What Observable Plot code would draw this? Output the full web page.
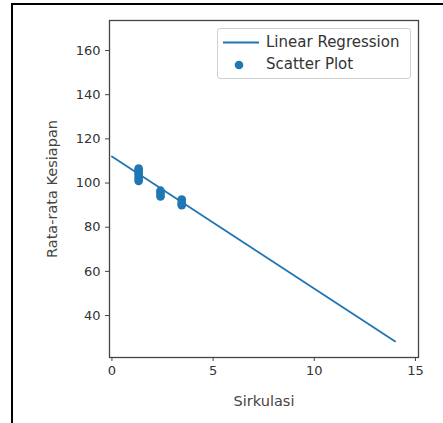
<!DOCTYPE html>
<html>
<head>
<meta charset="utf-8">
<script src="https://cdn.jsdelivr.net/npm/d3@7"></script>
<script src="https://cdn.jsdelivr.net/npm/@observablehq/plot@0.6"></script>
<style>
  html, body { margin: 0; padding: 0; background: #fff; }
  #wrap { position: relative; width: 443px; height: 423px; overflow: hidden; font-family: "DejaVu Sans", sans-serif; }
  #outer { position: absolute; left: 11px; top: 3px; width: 500px; height: 500px; border: 2px solid #000; box-sizing: border-box; }
  #chart { position: absolute; left: 0; top: 0; }
  #legend { position: absolute; left: 217px; top: 28px; width: 194px; height: 51px; border: 1px solid #d0d0d0; border-radius: 3px; background: rgba(255,255,255,0.8); box-sizing: border-box; font-size: 15px; color: #333; }
  .row { position: absolute; left: 0; height: 18px; line-height: 18px; }
  .txt { position: absolute; left: 48px; white-space: nowrap; }
</style>
</head>
<body>
<div id="wrap">
  <div id="outer"></div>
  <div id="chart"></div>
  <div id="legend">
    <div class="row" style="top:4px;width:190px">
      <svg width="45" height="18" style="position:absolute;left:4px;top:0"><line x1="1" x2="37" y1="9.5" y2="9.5" stroke="#1f77b4" stroke-width="1.8"/></svg>
      <span class="txt">Linear Regression</span>
    </div>
    <div class="row" style="top:26px;width:190px">
      <svg width="45" height="18" style="position:absolute;left:4px;top:0"><circle cx="17" cy="10" r="4.3" fill="#1f77b4"/></svg>
      <span class="txt">Scatter Plot</span>
    </div>
  </div>
</div>
<script>
// Data
const scatterX = [1.32, 1.32, 1.32, 1.32, 1.32, 2.4, 2.4, 2.4, 3.45, 3.45, 3.45];
const scatterY = [101, 102.5, 104, 105.5, 106.5, 94, 95.5, 96.5, 90, 91, 92.5];
const lineX = [0, 14];
const lineY = [112, 28.3];
const xTicks = [0, 5, 10, 15];
const yTicks = [40, 60, 80, 100, 120, 140, 160];
const xLabel = "Sirkulasi";
const yLabel = "Rata-rata Kesiapan";

const points = scatterX.map((x, i) => ({x, y: scatterY[i]}));
const line = lineX.map((x, i) => ({x, y: lineY[i]}));

const blue = "#1f77b4";
const chart = Plot.plot({
  width: 443,
  height: 423,
  marginLeft: 109,
  marginRight: 25,
  marginTop: 20,
  marginBottom: 66,
  style: { fontFamily: "DejaVu Sans, sans-serif", fontSize: "13px", color: "#333", background: "transparent" },
  x: { domain: [-0.12, 15.15], ticks: xTicks },
  y: { domain: [21, 173.6], ticks: yTicks },
  marks: [
    Plot.line(line, {x: "x", y: "y", stroke: blue, strokeWidth: 1.8}),
    Plot.dot(points, {x: "x", y: "y", r: 4.4, fill: blue}),
    Plot.frame({stroke: "#444", strokeWidth: 1.3}),
    Plot.axisX({ticks: xTicks, tickSize: 4, tickPadding: 4, label: null, fontSize: 13, stroke: "#444", fill: "#333"}),
    Plot.axisY({ticks: yTicks, tickSize: 4, tickPadding: 5, label: null, fontSize: 13, stroke: "#444", fill: "#333"}),
    Plot.text([xLabel], {text: d => d, frameAnchor: "bottom", textAnchor: "middle", lineAnchor: "middle", dy: 44, fontSize: 14.5, fill: "#444"}),
    Plot.text([yLabel], {text: d => d, frameAnchor: "left", textAnchor: "middle", lineAnchor: "middle", dx: -57, rotate: -90, fontSize: 14.5, fill: "#444"})
  ]
});
document.getElementById("chart").appendChild(chart);
</script>
</body>
</html>
